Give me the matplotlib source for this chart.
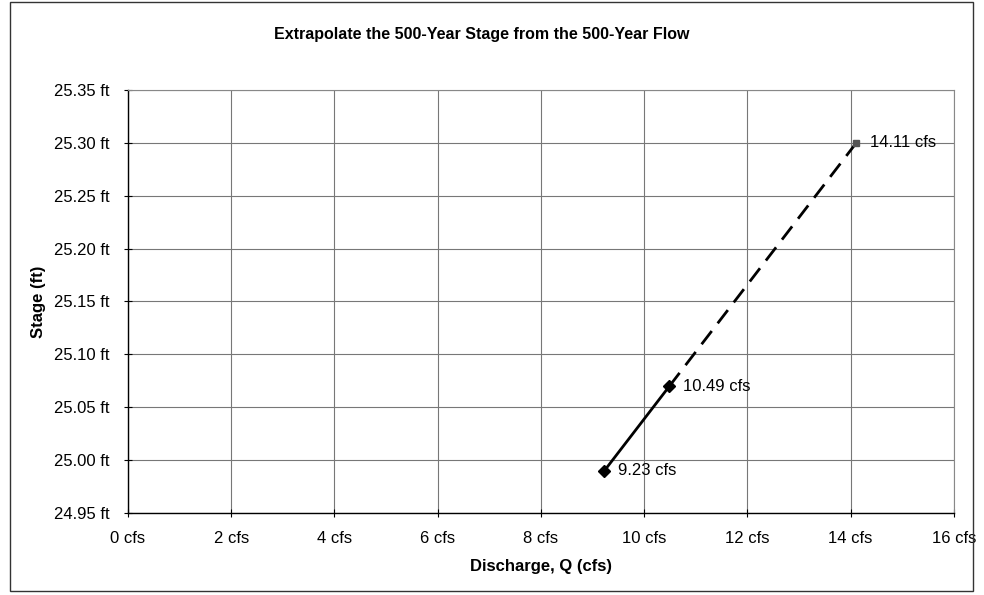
import matplotlib.pyplot as plt
from matplotlib.patches import Rectangle
from matplotlib.ticker import FuncFormatter, MultipleLocator

plt.rcParams['font.family'] = ['Liberation Sans', 'DejaVu Sans']

# === Rating points (discharge, stage) ===
known_q = [9.23, 10.49]
known_stage = [24.99, 25.07]
extrap_q = [10.49, 14.11]
extrap_stage = [25.07, 25.30]
point_labels = ['9.23 cfs', '10.49 cfs', '14.11 cfs']

fig = plt.figure(figsize=(9.84, 5.95), dpi=100)
ax = fig.add_axes([0.130, 0.1378, 0.8394, 0.711])

# === Lines ===
ax.plot(known_q, known_stage, color='black', lw=2, marker='D', ms=6.5,
        markerfacecolor='black', markeredgecolor='black', zorder=3)
ax.plot(extrap_q, extrap_stage, color='black', lw=2, ls=(0, (6, 3.5)), zorder=3)
ax.plot(extrap_q[-1:], extrap_stage[-1:], ls='none', marker='s', ms=5,
        color='#555555', zorder=4)

all_q = known_q + extrap_q[1:]
all_stage = known_stage + extrap_stage[1:]
for q, s, lab in zip(all_q, all_stage, point_labels):
    ax.annotate(lab, (q, s), xytext=(10, 0), textcoords='offset points',
                va='center', ha='left', fontsize=12)

# === Axes formatting ===
ax.set_xlim(0, 16)
ax.set_ylim(24.95, 25.35)
ax.xaxis.set_major_locator(MultipleLocator(2))
ax.yaxis.set_major_locator(MultipleLocator(0.05))
ax.xaxis.set_major_formatter(FuncFormatter(lambda v, p: f'{v:.0f} cfs'))
ax.yaxis.set_major_formatter(FuncFormatter(lambda v, p: f'{v:.2f} ft'))
ax.tick_params(axis='both', labelsize=12, direction='inout', length=6, width=0.8)
ax.tick_params(axis='x', pad=10)
ax.tick_params(axis='y', pad=10)
ax.grid(True, color='#777777', lw=0.8)
for side in ['top', 'right']:
    ax.spines[side].set_color('#888888')
    ax.spines[side].set_linewidth(0.8)
for side in ['left', 'bottom']:
    ax.spines[side].set_color('black')
    ax.spines[side].set_linewidth(1)

ax.set_xlabel('Discharge, Q (cfs)', fontsize=12, fontweight='bold', labelpad=9)
ax.set_ylabel('Stage (ft)', fontsize=12, fontweight='bold', labelpad=6)
fig.suptitle('Extrapolate the 500-Year Stage from the 500-Year Flow',
             fontsize=11.5, fontweight='bold', x=0.49, y=1 - 34 / 595, va='center')

# === Chart border ===
fig.add_artist(Rectangle((10 / 984, 4 / 595), 963 / 984, 589 / 595,
                         transform=fig.transFigure, fill=False,
                         edgecolor='#333333', lw=1))

fig.savefig('out.png', dpi=100)
